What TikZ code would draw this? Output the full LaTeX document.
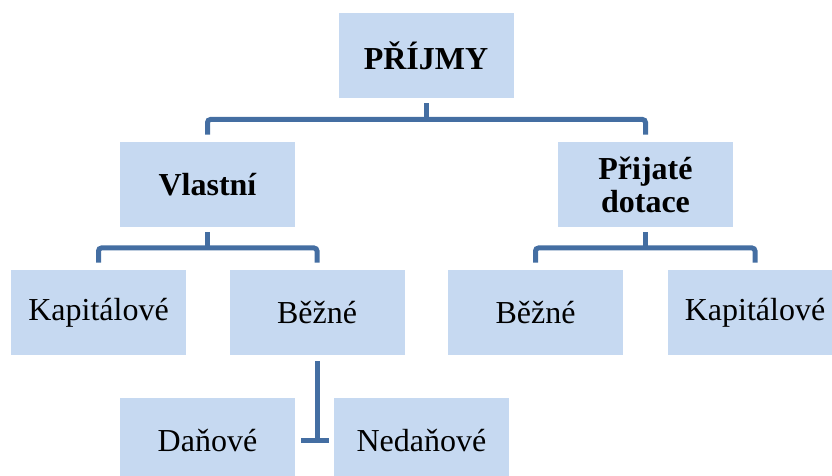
\documentclass[tikz,border=0pt]{standalone}
\usepackage{fontspec}
\setmainfont{Liberation Serif}
\definecolor{boxfill}{HTML}{C6D9F1}
\definecolor{conncol}{HTML}{446EA2}
\begin{document}
\begin{tikzpicture}[x=0.5pt,y=-0.5pt,
  box/.style={fill=boxfill,minimum width=87.5pt,minimum height=42.5pt,inner sep=0pt,
    font=\fontsize{16}{16.5}\selectfont,align=center},
  boldbox/.style={box,font=\fontsize{16}{16.5}\selectfont\bfseries},
  conn/.style={draw=conncol,line width=2.5pt,rounded corners=1.5pt}]
\useasboundingbox (0,0) rectangle (832,476);
\clip (0,0) rectangle (832,476);
\node[boldbox] (prijmy) at (426,55.5) {PŘÍJMY};
\node[boldbox] (vlastni) at (207.5,184.5) {Vlastní};
\node[boldbox] (dotace) at (645.5,184.5) {Přijaté\\dotace};
\node[box] (kap1) at (98.5,312.5) {Kapitálové};
\node[box] (bez1) at (317,312.5) {Běžné};
\node[box] (bez2) at (535.5,312.5) {Běžné};
\node[box] (kap2) at (755,312.5) {Kapitálové};
\node[box] (dan) at (207.5,440.5) {Daňové};
\node[box] (nedan) at (421.5,440.5) {Nedaňové};
\coordinate (busA) at (0,119.5);
\coordinate (busB) at (0,248);
\coordinate (busD) at (0,441);
% level 1
\draw[conn,shorten <=2.5pt] (prijmy.south) -- (prijmy.south |- busA);
\draw[conn,shorten <=3.5pt,shorten >=3.5pt] (vlastni.north) |- (prijmy.south |- busA) -| (dotace.north);
% level 2 left
\draw[conn,shorten <=2.5pt] (vlastni.south) -- (vlastni.south |- busB);
\draw[conn,shorten <=3.5pt,shorten >=3.5pt] (kap1.north) |- (vlastni.south |- busB) -| (bez1.north);
% level 2 right
\draw[conn,shorten <=2.5pt] (dotace.south) -- (dotace.south |- busB);
\draw[conn,shorten <=3.5pt,shorten >=3.5pt] (bez2.north) |- (dotace.south |- busB) -| (kap2.north);
% level 3
\draw[conn,shorten <=3pt] (bez1.south) -- (bez1.south |- busD);
\draw[conn,shorten <=3pt,shorten >=2.5pt] (dan.east |- busD) -- (nedan.west |- busD);
\end{tikzpicture}
\end{document}
